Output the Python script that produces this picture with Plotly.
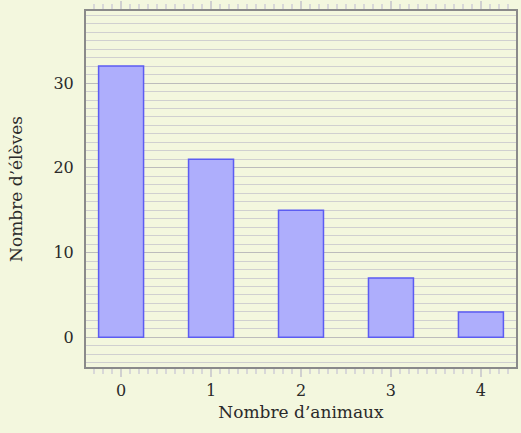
import plotly.graph_objects as go

categories = [0, 1, 2, 3, 4]
values = [32, 21, 15, 7, 3]
x_title = "Nombre d’animaux"
y_title = "Nombre d’élèves"

bg = "#f3f7de"
fig = go.Figure(go.Bar(
    x=categories, y=values, width=0.5,
    marker=dict(color="#aeaefc", line=dict(color="#5c5cf2", width=1.5)),
))
fig.update_layout(
    width=521, height=433,
    margin=dict(l=86, r=5, t=11, b=66),
    paper_bgcolor=bg, plot_bgcolor=bg,
    font=dict(family="DejaVu Serif", color="#2a2a2a", size=17),
    showlegend=False,
)
fig.update_xaxes(
    range=[-0.39, 4.39], tickvals=categories, ticks="outside", ticklen=8,
    tickcolor="#d0d0d0", tickwidth=1.5, mirror="allticks", showline=True,
    linecolor="#8a8a8a", linewidth=2, showgrid=False, zeroline=False, automargin=False,
    minor=dict(dtick=0.1, ticks="outside", ticklen=5, tickcolor="#d8d8d8", showgrid=False),
    tickfont=dict(size=16), title=dict(text=x_title, font=dict(size=17), standoff=7),
)
fig.update_yaxes(
    range=[-3.5, 38.5], tickvals=[0, 10, 20, 30], ticks="", mirror=True, showline=True,
    linecolor="#8a8a8a", linewidth=2, showgrid=True, gridcolor="#bcbcbc", gridwidth=1,
    zeroline=False, ticklabelstandoff=7, automargin=False,
    minor=dict(dtick=1, tick0=0, showgrid=True, gridcolor="#d0d0d0", gridwidth=1),
    tickfont=dict(size=16), title=dict(text=y_title, font=dict(size=17), standoff=26),
)
fig.write_html(
    "out.html",
    config={"displayModeBar": False},
    post_script="document.body.style.margin='0';document.body.style.background='#f3f7de';",
)
